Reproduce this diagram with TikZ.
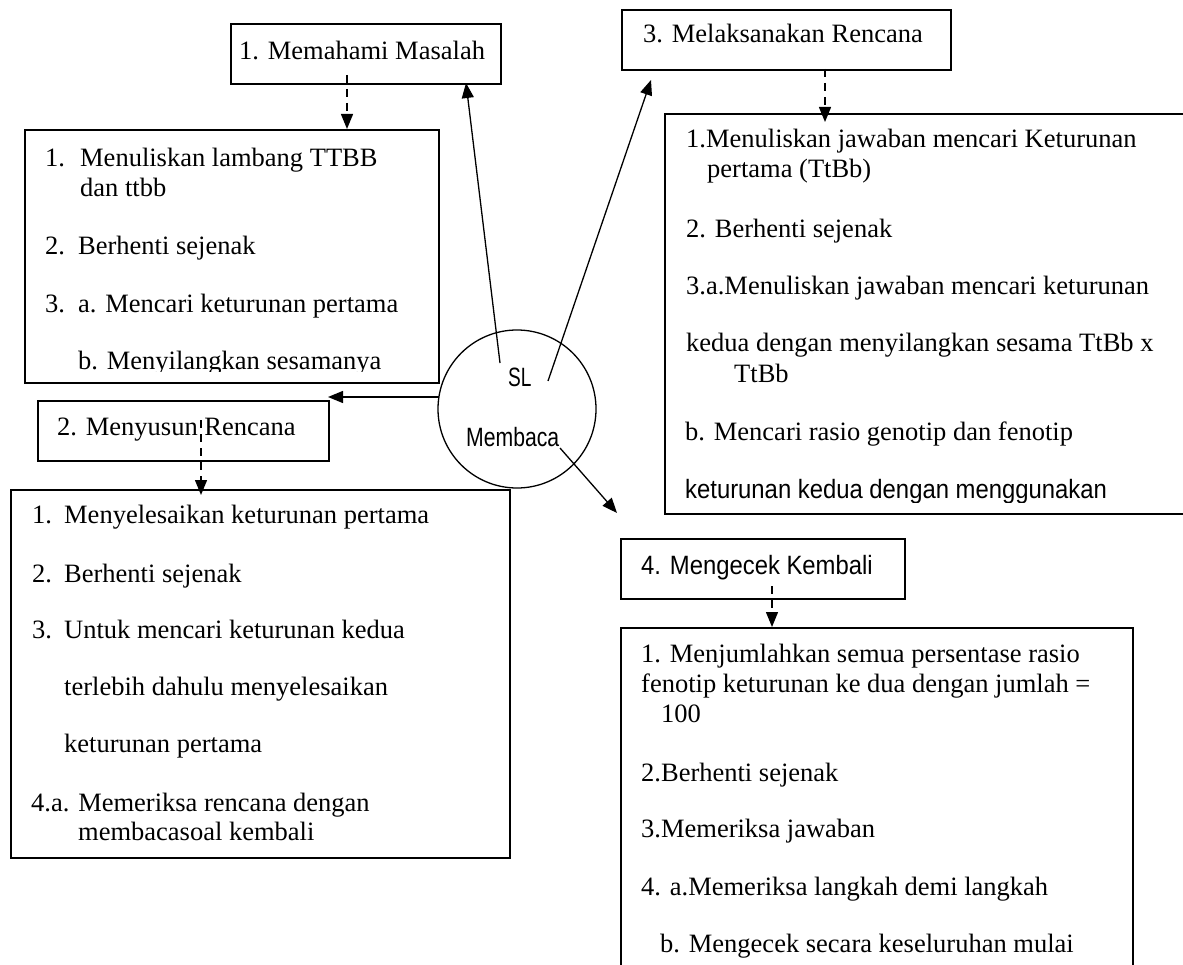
\documentclass[tikz,border=0pt]{standalone}
\usepackage{fontspec}
\setmainfont{Liberation Serif}
\newfontfamily\sansnar{Liberation Sans}
\usepackage{graphicx}
\usetikzlibrary{arrows.meta}
\newcommand\narrowtext[2]{\scalebox{#1}[1]{\sansnar #2}}
\newcommand\lbl[2]{\makebox[#1][l]{#2}}
\tikzset{
  box/.style={draw, line width=1.7pt, inner sep=0pt, anchor=north west},
  txt/.style={inner sep=0pt, anchor=base west, font=\fontsize{26.5}{30}\selectfont},
  arr/.style={line width=1.3pt, -{Triangle[length=15pt,width=12pt]}},
  darr/.style={arr, dash pattern=on 8pt off 6pt},
}
\begin{document}
\begin{tikzpicture}[x=1pt,y=-1pt]
\useasboundingbox (0,0) rectangle (1183,965);
\clip (0,0) rectangle (1183,965);

% ---------- boxes ----------
\node[box, minimum width=270pt, minimum height=60pt] (t1) at (230,23) {};
\node[box, minimum width=414pt, minimum height=253pt] (b1) at (24,129) {};
\node[box, minimum width=329pt, minimum height=60pt] (t3) at (621,9) {};
\node[box, minimum width=560pt, minimum height=400pt] (b3) at (664,113) {};
\node[box, minimum width=291pt, minimum height=60pt] (t2) at (37,400) {};
\node[box, minimum width=499pt, minimum height=368pt] (b2) at (10,489) {};
\node[box, minimum width=284pt, minimum height=60pt] (t4) at (620,538) {};
\node[box, minimum width=512pt, minimum height=400pt] (b4) at (620,627) {};
\node[draw, circle, line width=1.3pt, minimum size=158pt, inner sep=0pt] (sl) at (517,409) {};

% ---------- titles ----------
\node[txt] (t1x) at (239,60) {1. Memahami Masalah};
\node[txt] (t3x) at (643,43) {3. Melaksanakan Rencana};
\node[txt] (t2x) at (57,435) {2. Menyusun Rencana};
\node[txt] (t4x) at (641,574) {\narrowtext{0.9}{4. Mengecek Kembali}};
\node[txt] (slx) at (508,387) {\narrowtext{0.72}{SL}};
\node[txt] (mbx) at (466,446) {\narrowtext{0.8}{Membaca}};

% ---------- box 1 text ----------
\begin{scope}
\clip (24,129) rectangle (438,371.5);
\node[txt] (b1a) at (45,167) {\lbl{35pt}{1.}Menuliskan lambang TTBB};
\node[txt] (b1b) at (80,197) {dan ttbb};
\node[txt] (b1c) at (45,255) {\lbl{33pt}{2.}Berhenti sejenak};
\node[txt] (b1d) at (45,313) {\lbl{33pt}{3.}a. Mencari keturunan pertama};
\node[txt] (b1e) at (78,369.5) {b. Menyilangkan sesamanya};
\end{scope}

% ---------- box 3 text ----------
\begin{scope}
\clip (664,113) rectangle (1183,502);
\node[txt] (b3a) at (686,148) {1.Menuliskan jawaban mencari Keturunan};
\node[txt] (b3b) at (707,178) {pertama (TtBb)};
\node[txt] (b3c) at (686,238) {2. Berhenti sejenak};
\node[txt] (b3d) at (686,295) {3.a.Menuliskan jawaban mencari keturunan};
\node[txt] (b3e) at (686,352) {kedua dengan menyilangkan sesama TtBb x};
\node[txt] (b3f) at (734,382) {TtBb};
\node[txt] (b3g) at (685,440) {b. Mencari rasio genotip dan fenotip};
\node[txt] (b3h) at (685,498) {\narrowtext{0.9}{keturunan kedua dengan menggunakan}};
\end{scope}

% ---------- box 2 text ----------
\node[txt] (b2a) at (32,523) {\lbl{32pt}{1.}Menyelesaikan keturunan pertama};
\node[txt] (b2b) at (32,582) {\lbl{32pt}{2.}Berhenti sejenak};
\node[txt] (b2c) at (32,638) {\lbl{32pt}{3.}Untuk mencari keturunan kedua};
\node[txt] (b2d) at (64,695) {terlebih dahulu menyelesaikan};
\node[txt] (b2e) at (64,752) {keturunan pertama};
\node[txt] (b2f) at (31,811) {4.a. Memeriksa rencana dengan};
\node[txt] (b2g) at (78,840) {membacasoal kembali};

% ---------- box 4 text ----------
\node[txt] (b4a) at (641,662) {1. Menjumlahkan semua persentase rasio};
\node[txt] (b4b) at (641,692) {fenotip keturunan ke dua dengan jumlah =};
\node[txt] (b4c) at (661,722) {100};
\node[txt] (b4d) at (641,781) {2.Berhenti sejenak};
\node[txt] (b4e) at (641,837) {3.Memeriksa jawaban};
\node[txt] (b4f) at (641,895) {4. a.Memeriksa langkah demi langkah};
\node[txt] (b4g) at (660,952) {b. Mengecek secara keseluruhan mulai};

% ---------- connector ends ----------
\coordinate (s1) at (500,363);
\coordinate (e1) at (466,83);
\coordinate (s3) at (548,381);
\coordinate (e3) at (651,80);
\coordinate (s2) at (439,397);
\coordinate (e2) at (328,397);
\coordinate (s4) at (560,448);
\coordinate (e4) at (617,513);

\coordinate (d1s) at (347,75);
\coordinate (d1e) at (347,129);
\coordinate (d3s) at (825,69);
\coordinate (d3e) at (825,122);
\coordinate (d2s) at (201,420);
\coordinate (d2e) at (201,495);
\coordinate (d4s) at (772,586);
\coordinate (d4e) at (772,627);

% ---------- connectors ----------
\draw[arr] (s1) -- (e1);
\draw[arr] (s3) -- (e3);
\draw[arr] (s2) -- (e2);
\draw[arr] (s4) -- (e4);
\draw[darr] (d1s) -- (d1e);
\draw[darr] (d3s) -- (d3e);
\draw[darr] (d2s) -- (d2e);
\draw[darr] (d4s) -- (d4e);
\end{tikzpicture}
\end{document}
